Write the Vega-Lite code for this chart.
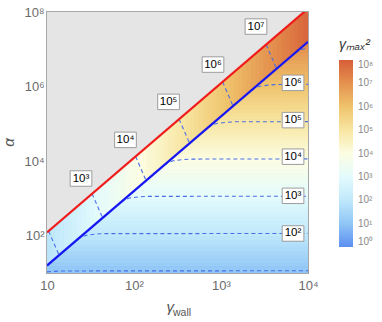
{
"$schema":"https://vega.github.io/schema/vega-lite/v6.json",
"width":261,"height":261,
"autosize":{"type":"none"},
"padding":{"left":47,"top":12,"right":74,"bottom":49},
"background":"white",
"config":{
 "font":"Liberation Sans",
 "view":{"stroke":"#a8a8a8","strokeWidth":2},
 "axis":{"grid":false,"domain":true,"domainColor":"#a8a8a8","domainWidth":1,"tickColor":"#9a9a9a","tickSize":-4,"tickWidth":1,"labelColor":"#6a6a6a","labelFontSize":13,"labelFlush":false,"titleColor":"#555555","titleFontWeight":"normal","titleFontStyle":"italic","titleFontSize":15,"zindex":1}
},
"title":{"text":"wall","orient":"bottom","anchor":"start","frame":"group","dx":126,"dy":-10,"fontSize":10.5,"fontWeight":"normal","font":"Liberation Sans","color":"#555555"},
"datasets":{
 "below":[
  {"lo":1e1,"hi":1.259e1,"g":1e1},{"lo":1.259e1,"hi":1.585e1,"g":1.259e1},{"lo":1.585e1,"hi":1.995e1,"g":1.585e1},{"lo":1.995e1,"hi":2.512e1,"g":1.995e1},{"lo":2.512e1,"hi":3.162e1,"g":2.512e1},{"lo":3.162e1,"hi":3.981e1,"g":3.162e1},{"lo":3.981e1,"hi":5.012e1,"g":3.981e1},{"lo":5.012e1,"hi":6.31e1,"g":5.012e1},{"lo":6.31e1,"hi":7.943e1,"g":6.31e1},{"lo":7.943e1,"hi":1e2,"g":7.943e1},
  {"lo":1e2,"hi":1.259e2,"g":1e2},{"lo":1.259e2,"hi":1.585e2,"g":1.259e2},{"lo":1.585e2,"hi":1.995e2,"g":1.585e2},{"lo":1.995e2,"hi":2.512e2,"g":1.995e2},{"lo":2.512e2,"hi":3.162e2,"g":2.512e2},{"lo":3.162e2,"hi":3.981e2,"g":3.162e2},{"lo":3.981e2,"hi":5.012e2,"g":3.981e2},{"lo":5.012e2,"hi":6.31e2,"g":5.012e2},{"lo":6.31e2,"hi":7.943e2,"g":6.31e2},{"lo":7.943e2,"hi":1e3,"g":7.943e2},
  {"lo":1e3,"hi":1.259e3,"g":1e3},{"lo":1.259e3,"hi":1.585e3,"g":1.259e3},{"lo":1.585e3,"hi":1.995e3,"g":1.585e3},{"lo":1.995e3,"hi":2.512e3,"g":1.995e3},{"lo":2.512e3,"hi":3.162e3,"g":2.512e3},{"lo":3.162e3,"hi":3.981e3,"g":3.162e3},{"lo":3.981e3,"hi":5.012e3,"g":3.981e3},{"lo":5.012e3,"hi":6.31e3,"g":5.012e3},{"lo":6.31e3,"hi":7.943e3,"g":6.31e3},{"lo":7.943e3,"hi":1e4,"g":7.943e3},
  {"lo":1e4,"hi":1.259e4,"g":1e4},{"lo":1.259e4,"hi":1.585e4,"g":1.259e4},{"lo":1.585e4,"hi":1.995e4,"g":1.585e4},{"lo":1.995e4,"hi":2.512e4,"g":1.995e4},{"lo":2.512e4,"hi":3.162e4,"g":2.512e4},{"lo":3.162e4,"hi":3.981e4,"g":3.162e4},{"lo":3.981e4,"hi":5.012e4,"g":3.981e4},{"lo":5.012e4,"hi":6.31e4,"g":5.012e4},{"lo":6.31e4,"hi":7.943e4,"g":6.31e4},{"lo":7.943e4,"hi":1e5,"g":7.943e4},
  {"lo":1e5,"hi":1.259e5,"g":1e5},{"lo":1.259e5,"hi":1.585e5,"g":1.259e5},{"lo":1.585e5,"hi":1.995e5,"g":1.585e5},{"lo":1.995e5,"hi":2.512e5,"g":1.995e5},{"lo":2.512e5,"hi":3.162e5,"g":2.512e5},{"lo":3.162e5,"hi":3.981e5,"g":3.162e5},{"lo":3.981e5,"hi":5.012e5,"g":3.981e5},{"lo":5.012e5,"hi":6.31e5,"g":5.012e5},{"lo":6.31e5,"hi":7.943e5,"g":6.31e5},{"lo":7.943e5,"hi":1e6,"g":7.943e5},
  {"lo":1e6,"hi":1.259e6,"g":1e6},{"lo":1.259e6,"hi":1.585e6,"g":1.259e6},{"lo":1.585e6,"hi":1.995e6,"g":1.585e6},{"lo":1.995e6,"hi":2.512e6,"g":1.995e6},{"lo":2.512e6,"hi":3.162e6,"g":2.512e6},{"lo":3.162e6,"hi":3.981e6,"g":3.162e6},{"lo":3.981e6,"hi":5.012e6,"g":3.981e6},{"lo":5.012e6,"hi":6.31e6,"g":5.012e6},{"lo":6.31e6,"hi":7.943e6,"g":6.31e6},{"lo":7.943e6,"hi":1e7,"g":7.943e6},
  {"lo":1e7,"hi":1.259e7,"g":1e7},{"lo":1.259e7,"hi":1.585e7,"g":1.259e7},{"lo":1.585e7,"hi":1.995e7,"g":1.585e7},{"lo":1.995e7,"hi":2.512e7,"g":1.995e7},{"lo":2.512e7,"hi":3.162e7,"g":2.512e7},{"lo":3.162e7,"hi":3.981e7,"g":3.162e7},{"lo":3.981e7,"hi":5.012e7,"g":3.981e7},{"lo":5.012e7,"hi":6.31e7,"g":5.012e7},{"lo":6.31e7,"hi":7.943e7,"g":6.31e7},{"lo":7.943e7,"hi":1e8,"g":7.943e7}
 ],
 "band":[
  {"s":0,"x":1e1,"lo":1.585e1,"g":7.943e1},{"s":0,"x":1.122e1,"lo":1.995e1,"g":7.943e1},
  {"s":1,"x":1.122e1,"lo":1.995e1,"g":1e2},{"s":1,"x":1.259e1,"lo":2.512e1,"g":1e2},
  {"s":2,"x":1.259e1,"lo":2.512e1,"g":1.259e2},{"s":2,"x":1.413e1,"lo":3.162e1,"g":1.259e2},
  {"s":3,"x":1.413e1,"lo":3.162e1,"g":1.585e2},{"s":3,"x":1.585e1,"lo":3.981e1,"g":1.585e2},
  {"s":4,"x":1.585e1,"lo":3.981e1,"g":1.995e2},{"s":4,"x":1.778e1,"lo":5.012e1,"g":1.995e2},
  {"s":5,"x":1.778e1,"lo":5.012e1,"g":2.512e2},{"s":5,"x":1.995e1,"lo":6.31e1,"g":2.512e2},
  {"s":6,"x":1.995e1,"lo":6.31e1,"g":3.162e2},{"s":6,"x":2.239e1,"lo":7.943e1,"g":3.162e2},
  {"s":7,"x":2.239e1,"lo":7.943e1,"g":3.981e2},{"s":7,"x":2.512e1,"lo":1e2,"g":3.981e2},
  {"s":8,"x":2.512e1,"lo":1e2,"g":5.012e2},{"s":8,"x":2.818e1,"lo":1.259e2,"g":5.012e2},
  {"s":9,"x":2.818e1,"lo":1.259e2,"g":6.31e2},{"s":9,"x":3.162e1,"lo":1.585e2,"g":6.31e2},
  {"s":10,"x":3.162e1,"lo":1.585e2,"g":7.943e2},{"s":10,"x":3.548e1,"lo":1.995e2,"g":7.943e2},
  {"s":11,"x":3.548e1,"lo":1.995e2,"g":1e3},{"s":11,"x":3.981e1,"lo":2.512e2,"g":1e3},
  {"s":12,"x":3.981e1,"lo":2.512e2,"g":1.259e3},{"s":12,"x":4.467e1,"lo":3.162e2,"g":1.259e3},
  {"s":13,"x":4.467e1,"lo":3.162e2,"g":1.585e3},{"s":13,"x":5.012e1,"lo":3.981e2,"g":1.585e3},
  {"s":14,"x":5.012e1,"lo":3.981e2,"g":1.995e3},{"s":14,"x":5.623e1,"lo":5.012e2,"g":1.995e3},
  {"s":15,"x":5.623e1,"lo":5.012e2,"g":2.512e3},{"s":15,"x":6.31e1,"lo":6.31e2,"g":2.512e3},
  {"s":16,"x":6.31e1,"lo":6.31e2,"g":3.162e3},{"s":16,"x":7.079e1,"lo":7.943e2,"g":3.162e3},
  {"s":17,"x":7.079e1,"lo":7.943e2,"g":3.981e3},{"s":17,"x":7.943e1,"lo":1e3,"g":3.981e3},
  {"s":18,"x":7.943e1,"lo":1e3,"g":5.012e3},{"s":18,"x":8.913e1,"lo":1.259e3,"g":5.012e3},
  {"s":19,"x":8.913e1,"lo":1.259e3,"g":6.31e3},{"s":19,"x":1e2,"lo":1.585e3,"g":6.31e3},
  {"s":20,"x":1e2,"lo":1.585e3,"g":7.943e3},{"s":20,"x":1.122e2,"lo":1.995e3,"g":7.943e3},
  {"s":21,"x":1.122e2,"lo":1.995e3,"g":1e4},{"s":21,"x":1.259e2,"lo":2.512e3,"g":1e4},
  {"s":22,"x":1.259e2,"lo":2.512e3,"g":1.259e4},{"s":22,"x":1.413e2,"lo":3.162e3,"g":1.259e4},
  {"s":23,"x":1.413e2,"lo":3.162e3,"g":1.585e4},{"s":23,"x":1.585e2,"lo":3.981e3,"g":1.585e4},
  {"s":24,"x":1.585e2,"lo":3.981e3,"g":1.995e4},{"s":24,"x":1.778e2,"lo":5.012e3,"g":1.995e4},
  {"s":25,"x":1.778e2,"lo":5.012e3,"g":2.512e4},{"s":25,"x":1.995e2,"lo":6.31e3,"g":2.512e4},
  {"s":26,"x":1.995e2,"lo":6.31e3,"g":3.162e4},{"s":26,"x":2.239e2,"lo":7.943e3,"g":3.162e4},
  {"s":27,"x":2.239e2,"lo":7.943e3,"g":3.981e4},{"s":27,"x":2.512e2,"lo":1e4,"g":3.981e4},
  {"s":28,"x":2.512e2,"lo":1e4,"g":5.012e4},{"s":28,"x":2.818e2,"lo":1.259e4,"g":5.012e4},
  {"s":29,"x":2.818e2,"lo":1.259e4,"g":6.31e4},{"s":29,"x":3.162e2,"lo":1.585e4,"g":6.31e4},
  {"s":30,"x":3.162e2,"lo":1.585e4,"g":7.943e4},{"s":30,"x":3.548e2,"lo":1.995e4,"g":7.943e4},
  {"s":31,"x":3.548e2,"lo":1.995e4,"g":1e5},{"s":31,"x":3.981e2,"lo":2.512e4,"g":1e5},
  {"s":32,"x":3.981e2,"lo":2.512e4,"g":1.259e5},{"s":32,"x":4.467e2,"lo":3.162e4,"g":1.259e5},
  {"s":33,"x":4.467e2,"lo":3.162e4,"g":1.585e5},{"s":33,"x":5.012e2,"lo":3.981e4,"g":1.585e5},
  {"s":34,"x":5.012e2,"lo":3.981e4,"g":1.995e5},{"s":34,"x":5.623e2,"lo":5.012e4,"g":1.995e5},
  {"s":35,"x":5.623e2,"lo":5.012e4,"g":2.512e5},{"s":35,"x":6.31e2,"lo":6.31e4,"g":2.512e5},
  {"s":36,"x":6.31e2,"lo":6.31e4,"g":3.162e5},{"s":36,"x":7.079e2,"lo":7.943e4,"g":3.162e5},
  {"s":37,"x":7.079e2,"lo":7.943e4,"g":3.981e5},{"s":37,"x":7.943e2,"lo":1e5,"g":3.981e5},
  {"s":38,"x":7.943e2,"lo":1e5,"g":5.012e5},{"s":38,"x":8.913e2,"lo":1.259e5,"g":5.012e5},
  {"s":39,"x":8.913e2,"lo":1.259e5,"g":6.31e5},{"s":39,"x":1e3,"lo":1.585e5,"g":6.31e5},
  {"s":40,"x":1e3,"lo":1.585e5,"g":7.943e5},{"s":40,"x":1.122e3,"lo":1.995e5,"g":7.943e5},
  {"s":41,"x":1.122e3,"lo":1.995e5,"g":1e6},{"s":41,"x":1.259e3,"lo":2.512e5,"g":1e6},
  {"s":42,"x":1.259e3,"lo":2.512e5,"g":1.259e6},{"s":42,"x":1.413e3,"lo":3.162e5,"g":1.259e6},
  {"s":43,"x":1.413e3,"lo":3.162e5,"g":1.585e6},{"s":43,"x":1.585e3,"lo":3.981e5,"g":1.585e6},
  {"s":44,"x":1.585e3,"lo":3.981e5,"g":1.995e6},{"s":44,"x":1.778e3,"lo":5.012e5,"g":1.995e6},
  {"s":45,"x":1.778e3,"lo":5.012e5,"g":2.512e6},{"s":45,"x":1.995e3,"lo":6.31e5,"g":2.512e6},
  {"s":46,"x":1.995e3,"lo":6.31e5,"g":3.162e6},{"s":46,"x":2.239e3,"lo":7.943e5,"g":3.162e6},
  {"s":47,"x":2.239e3,"lo":7.943e5,"g":3.981e6},{"s":47,"x":2.512e3,"lo":1e6,"g":3.981e6},
  {"s":48,"x":2.512e3,"lo":1e6,"g":5.012e6},{"s":48,"x":2.818e3,"lo":1.259e6,"g":5.012e6},
  {"s":49,"x":2.818e3,"lo":1.259e6,"g":6.31e6},{"s":49,"x":3.162e3,"lo":1.585e6,"g":6.31e6},
  {"s":50,"x":3.162e3,"lo":1.585e6,"g":7.943e6},{"s":50,"x":3.548e3,"lo":1.995e6,"g":7.943e6},
  {"s":51,"x":3.548e3,"lo":1.995e6,"g":1e7},{"s":51,"x":3.981e3,"lo":2.512e6,"g":1e7},
  {"s":52,"x":3.981e3,"lo":2.512e6,"g":1.259e7},{"s":52,"x":4.467e3,"lo":3.162e6,"g":1.259e7},
  {"s":53,"x":4.467e3,"lo":3.162e6,"g":1.585e7},{"s":53,"x":5.012e3,"lo":3.981e6,"g":1.585e7},
  {"s":54,"x":5.012e3,"lo":3.981e6,"g":1.995e7},{"s":54,"x":5.623e3,"lo":5.012e6,"g":1.995e7},
  {"s":55,"x":5.623e3,"lo":5.012e6,"g":2.512e7},{"s":55,"x":6.31e3,"lo":6.31e6,"g":2.512e7},
  {"s":56,"x":6.31e3,"lo":6.31e6,"g":3.162e7},{"s":56,"x":7.079e3,"lo":7.943e6,"g":3.162e7},
  {"s":57,"x":7.079e3,"lo":7.943e6,"g":3.981e7},{"s":57,"x":7.943e3,"lo":1e7,"g":3.981e7},
  {"s":58,"x":7.943e3,"lo":1e7,"g":5.012e7},{"s":58,"x":8.913e3,"lo":1.259e7,"g":5.012e7},
  {"s":59,"x":8.913e3,"lo":1.259e7,"g":6.31e7},{"s":59,"x":1e4,"lo":1.585e7,"g":6.31e7}
 ],
 "red":[{"x":10,"y":123},{"x":10000,"y":1.23e8}],
 "blue":[{"x":10,"y":15.85},{"x":10000,"y":1.585e7}],
 "contours":[
  {"c":"b2","x":10.43,"y":134},{"c":"b2","x":13.77,"y":30.06},
  {"c":"b3","x":33.0,"y":1340},{"c":"b3","x":43.55,"y":300.6},
  {"c":"b4","x":104.3,"y":13400},{"c":"b4","x":137.7,"y":3006},
  {"c":"b5","x":330,"y":134000},{"c":"b5","x":435.5,"y":30060},
  {"c":"b6","x":1043,"y":1340000},{"c":"b6","x":1377,"y":300600},
  {"c":"b7","x":3300,"y":13400000},{"c":"b7","x":4355,"y":3006000},
  {"c":"h1","x":10,"y":10.72},{"c":"h1","x":11.22,"y":10.965},{"c":"h1","x":14.13,"y":11.35},{"c":"h1","x":10000,"y":11.48},
  {"c":"h2","x":22.39,"y":79.43},{"c":"h2","x":25.12,"y":93.33},{"c":"h2","x":28.18,"y":102.3},{"c":"h2","x":35.48,"y":109.65},{"c":"h2","x":44.67,"y":113.5},{"c":"h2","x":10000,"y":114.8},
  {"c":"h3","x":70.79,"y":794.3},{"c":"h3","x":79.43,"y":933.3},{"c":"h3","x":89.13,"y":1023},{"c":"h3","x":112.2,"y":1096.5},{"c":"h3","x":141.3,"y":1135},{"c":"h3","x":10000,"y":1148},
  {"c":"h4","x":223.9,"y":7943},{"c":"h4","x":251.2,"y":9333},{"c":"h4","x":281.8,"y":10230},{"c":"h4","x":354.8,"y":10965},{"c":"h4","x":446.7,"y":11350},{"c":"h4","x":10000,"y":11480},
  {"c":"h5","x":707.9,"y":79430},{"c":"h5","x":794.3,"y":93330},{"c":"h5","x":891.3,"y":102300},{"c":"h5","x":1122,"y":109650},{"c":"h5","x":1413,"y":113500},{"c":"h5","x":10000,"y":114800},
  {"c":"h6","x":2239,"y":794300},{"c":"h6","x":2512,"y":933300},{"c":"h6","x":2818,"y":1023000},{"c":"h6","x":3548,"y":1096500},{"c":"h6","x":4467,"y":1135000},{"c":"h6","x":10000,"y":1148000},
  {"c":"h7","x":7079,"y":7943000},{"c":"h7","x":7943,"y":9333000},{"c":"h7","x":8913,"y":10230000},{"c":"h7","x":10000,"y":10700000}
 ],
 "labels":[
  {"t":"10³","x":24.6,"y":3420},
  {"t":"10⁴","x":79.8,"y":37200},
  {"t":"10⁵","x":249.5,"y":389000},
  {"t":"10⁶","x":809,"y":3890000},
  {"t":"10⁷","x":2523,"y":40700000},
  {"t":"10²","x":6730,"y":114.8},
  {"t":"10³","x":6730,"y":1175},
  {"t":"10⁴","x":6730,"y":13180},
  {"t":"10⁵","x":6730,"y":125900},
  {"t":"10⁶","x":6730,"y":1259000}
 ]
},
"layer":[
 {"data":{"name":"below"},
  "mark":{"type":"rect","clip":true,"stroke":{"expr":"scale('color', datum.g)"},"strokeWidth":0.8},
  "encoding":{
   "y":{"field":"lo","type":"quantitative","scale":{"type":"log","domain":[10,100000000]},
        "axis":{"values":[100,10000,1000000,100000000],"labelExpr":"datum.value < 200 ? '10²' : datum.value < 20000 ? '10⁴' : datum.value < 2000000 ? '10⁶' : '10⁸'","title":"α","labelPadding":7,"titleX":-39,"titleY":130,"titleAlign":"center","titleBaseline":"middle","titleAngle":270}},
   "y2":{"field":"hi"},
   "color":{"field":"g","type":"quantitative",
     "scale":{"type":"log","domain":[1,10,100,1000,10000,100000,1000000,10000000,100000000],"range":["#5b8ef0","#8fc6f6","#c0e8fb","#e3fbfd","#fcfde3","#f8e6a2","#efc36c","#e4924f","#d75e38"],"interpolate":"rgb"},
     "legend":{"type":"gradient","orient":"none","legendX":292,"legendY":26,"direction":"vertical","gradientLength":187,"gradientThickness":14,"gradientStrokeWidth":0,"values":[1,10,100,1000,10000,100000,1000000,10000000,100000000],"labelExpr":"'10' + ['⁰','¹','²','³','⁴','⁵','⁶','⁷','⁸'][round(log(datum.value)/LN10)]","labelFontSize":10,"labelColor":"#8a8a8a","labelOffset":5,"labelBaseline":"middle","title":"γₘₐₓ²","titleFontSize":14,"titleFontStyle":"italic","titleFontWeight":"normal","titleColor":"#333333","titlePadding":8}}
  }},
 {"data":{"name":"band"},
  "mark":{"type":"area","clip":true,"stroke":{"expr":"scale('color', datum.g)"},"strokeWidth":0.8},
  "encoding":{
   "x":{"field":"x","type":"quantitative","scale":{"type":"log","domain":[10,10000]},
        "axis":{"values":[10,100,1000,10000],"labelExpr":"datum.value < 11 ? '10' : datum.value < 110 ? '10²' : datum.value < 1100 ? '10³' : '10⁴'","title":"γ","labelPadding":10,"titleX":119,"titleY":38,"titleAlign":"left","titleBaseline":"alphabetic"}},
   "y":{"field":"lo","type":"quantitative","scale":{"type":"log","domain":[10,100000000]},"stack":null},
   "y2":{"datum":100000000},
   "detail":{"field":"s","type":"nominal"},
   "color":{"field":"g","type":"quantitative",
     "scale":{"type":"log","domain":[1,10,100,1000,10000,100000,1000000,10000000,100000000],"range":["#5b8ef0","#8fc6f6","#c0e8fb","#e3fbfd","#fcfde3","#f8e6a2","#efc36c","#e4924f","#d75e38"],"interpolate":"rgb"}}
  }},
 {"data":{"name":"red"},
  "mark":{"type":"area","clip":true,"color":"#e5e5e5"},
  "encoding":{
   "x":{"field":"x","type":"quantitative","scale":{"type":"log","domain":[10,10000]}},
   "y":{"field":"y","type":"quantitative","scale":{"type":"log","domain":[10,100000000]},"stack":null},
   "y2":{"datum":100000000}
  }},
 {"data":{"name":"contours"},
  "mark":{"type":"line","clip":true,"color":"#4a6fe6","strokeWidth":1.1,"strokeDash":[4,3]},
  "encoding":{
   "x":{"field":"x","type":"quantitative","scale":{"type":"log","domain":[10,10000]}},
   "y":{"field":"y","type":"quantitative","scale":{"type":"log","domain":[10,100000000]}},
   "detail":{"field":"c","type":"nominal"}
  }},
 {"data":{"name":"red"},
  "mark":{"type":"line","clip":true,"color":"#f01c1c","strokeWidth":2.2},
  "encoding":{
   "x":{"field":"x","type":"quantitative","scale":{"type":"log","domain":[10,10000]}},
   "y":{"field":"y","type":"quantitative","scale":{"type":"log","domain":[10,100000000]}}
  }},
 {"data":{"name":"blue"},
  "mark":{"type":"line","clip":true,"color":"#1717f2","strokeWidth":2.2},
  "encoding":{
   "x":{"field":"x","type":"quantitative","scale":{"type":"log","domain":[10,10000]}},
   "y":{"field":"y","type":"quantitative","scale":{"type":"log","domain":[10,100000000]}}
  }},
 {"data":{"name":"labels"},
  "mark":{"type":"point","shape":"M-1.4,-1H1.4V1H-1.4Z","size":240,"filled":true,"fill":"white","stroke":"#9c9c9c","strokeWidth":1,"opacity":1},
  "encoding":{
   "x":{"field":"x","type":"quantitative","scale":{"type":"log","domain":[10,10000]}},
   "y":{"field":"y","type":"quantitative","scale":{"type":"log","domain":[10,100000000]}}
  }},
 {"data":{"name":"labels"},
  "mark":{"type":"text","fontSize":11.5,"color":"black","font":"Liberation Sans"},
  "encoding":{
   "x":{"field":"x","type":"quantitative","scale":{"type":"log","domain":[10,10000]}},
   "y":{"field":"y","type":"quantitative","scale":{"type":"log","domain":[10,100000000]}},
   "text":{"field":"t","type":"nominal"}
  }}
]
}
